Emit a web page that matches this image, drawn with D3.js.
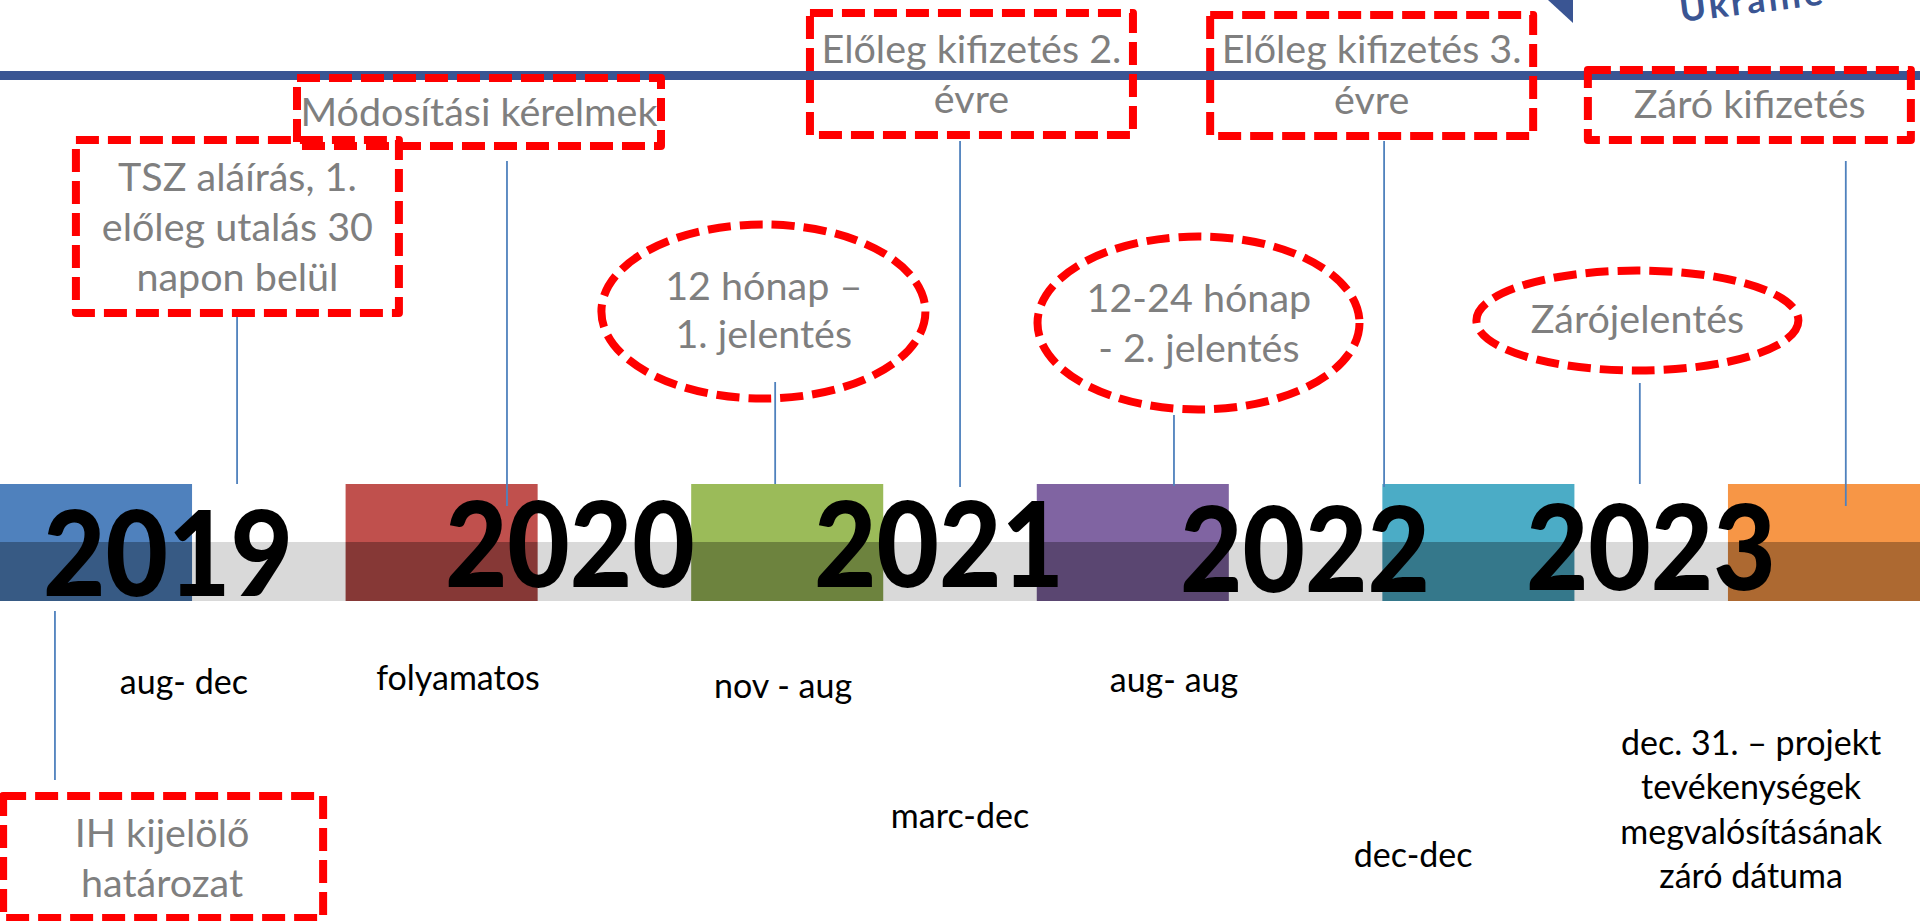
<!DOCTYPE html>
<html><head><meta charset="utf-8">
<script src="https://cdn.jsdelivr.net/npm/d3@7"></script>
<style>html,body{margin:0;padding:0;background:#fff;overflow:hidden}svg{display:block}</style>
</head><body>
<svg id="chart" width="1920" height="921"></svg>
<script>
// ---------------- DATA ----------------
const years = ["2019", "2020", "2021", "2022", "2023"];
const blockSlots = ["2019", "2020", "2021", "2022", "2023", "2024"];
// year label positions on the timeline (in slot units)
const yearLabelT = [0.486, 1.649, 2.717, 3.776, 4.777];

const milestoneTexts = [
  ["TSZ aláírás, 1.", "előleg utalás 30", "napon belül"],
  ["Módosítási kérelmek"],
  ["12 hónap –", "1. jelentés"],
  ["Előleg kifizetés 2.", "évre"],
  ["12-24 hónap", "- 2. jelentés"],
  ["Előleg kifizetés 3.", "évre"],
  ["Zárójelentés"],
  ["Záró kifizetés"],
  ["IH kijelölő", "határozat"]
];
const milestoneT = [0.686, 1.467, 2.243, 2.778, 3.397, 4.005, 4.745, 5.341, 0.159];
const milestoneShapes = ["rect", "rect", "ellipse", "rect", "ellipse", "rect", "ellipse", "rect", "rect"];

const periodTexts = [
  ["aug- dec"], ["folyamatos"], ["nov - aug"], ["marc-dec"], ["aug- aug"], ["dec-dec"],
  ["dec. 31. – projekt", "tevékenységek", "megvalósításának", "záró dátuma"]
];
const periodT = [0.532, 1.325, 2.266, 2.778, 3.397, 4.089, 5.067];

// ---------------- STYLES / LAYOUT ----------------
const blockColors = ["#4F81BD", "#C0504D", "#9BBB59", "#8064A2", "#4BACC6", "#F79646"];
const FONT = "Lato, Carlito, Calibri, 'Open Sans', sans-serif";
const W = 1920, H = 921;
const blockTop = 484, bandTop = 542, bandBottom = 601;
const yearBaseline = [596, 587, 587, 592, 590];

// shape geometry per milestone (box centre x in slot units, extents in px)
const shapeLayout = [
  {cxT: 0.687, w: 323, y0: 140, y1: 313},
  {cxT: 1.386, w: 364, y0: 78, y1: 146},
  {cxT: 2.209, w: 324, y0: 224.5, y1: 398.5},
  {cxT: 2.811, w: 323, y0: 13, y1: 135},
  {cxT: 3.468, w: 322, y0: 236.5, y1: 409.5},
  {cxT: 3.969, w: 323, y0: 15, y1: 136},
  {cxT: 4.738, w: 322, y0: 270.5, y1: 370.5},
  {cxT: 5.062, w: 323, y0: 70, y1: 140},
  {cxT: 0.472, w: 320, y0: 796, y1: 918}
];
const textLayout = [
  {cxT: 0.687, y: 191, lh: 50},
  {cxT: 1.386, y: 126, lh: 50},
  {cxT: 2.210, y: 300, lh: 48},
  {cxT: 2.811, y: 63, lh: 50},
  {cxT: 3.469, y: 312, lh: 50},
  {cxT: 3.969, y: 63, lh: 51},
  {cxT: 4.738, y: 333, lh: 50},
  {cxT: 5.063, y: 118, lh: 50},
  {cxT: 0.469, y: 847, lh: 50}
];
const lineLayout = [
  [315, 484], [161, 506], [382, 484], [141, 487], [415, 486], [141, 487], [383, 484], [161, 506], [611, 780]
];
const periodBaseline = [694, 690, 698, 828, 692, 867, 755];

// ---------------- SCALES ----------------
const svg = d3.select("#chart");
const band = d3.scaleBand().domain(blockSlots).range([0, W]).paddingInner(0.4443).paddingOuter(0);
const step = band.step();
const xT = d3.scaleLinear().domain([0, 1]).range([0, step]);

// ---------------- DRAW ----------------
// top header line
svg.append("rect").attr("x", 0).attr("y", 71).attr("width", W).attr("height", 9).attr("fill", "#3A5593");

// header decoration (triangle + "Ukraine")
svg.append("path").attr("d", d3.line()([[1548, 0], [1573, 0], [1573, 23]]) + "Z").attr("fill", "#3A5593");
svg.append("text").attr("transform", "translate(1681,22) rotate(-7)")
  .attr("font-family", FONT).attr("font-weight", 700).attr("font-size", 36)
  .attr("letter-spacing", 3).attr("fill", "#3A5593").text("Ukraine");

// gray band
svg.append("rect").attr("x", 0).attr("y", bandTop).attr("width", W).attr("height", bandBottom - bandTop).attr("fill", "#D9D9D9");

// colour blocks
const blocks = svg.append("g").selectAll("g").data(blockSlots).join("g");
blocks.append("rect").attr("x", d => band(d)).attr("y", blockTop).attr("width", band.bandwidth())
  .attr("height", bandTop - blockTop).attr("fill", (d, i) => blockColors[i]);
blocks.append("rect").attr("x", d => band(d)).attr("y", bandTop).attr("width", band.bandwidth())
  .attr("height", bandBottom - bandTop).attr("fill", (d, i) => d3.color(blockColors[i]).darker(1).formatHex());

// connector lines
svg.append("g").selectAll("line").data(milestoneT).join("line")
  .attr("x1", d => xT(d)).attr("x2", d => xT(d))
  .attr("y1", (d, i) => lineLayout[i][0]).attr("y2", (d, i) => lineLayout[i][1])
  .attr("stroke", "#4F81BD").attr("stroke-width", 1.8);

// dashed shapes
const shapes = svg.append("g").attr("fill", "none").attr("stroke", "#FF0000")
  .attr("stroke-width", 8).attr("stroke-dasharray", "23 9").attr("stroke-linejoin", "round");
milestoneShapes.forEach((s, i) => {
  const L = shapeLayout[i];
  const cx = xT(L.cxT);
  if (s === "rect") {
    shapes.append("rect").attr("x", cx - L.w / 2).attr("y", L.y0).attr("width", L.w).attr("height", L.y1 - L.y0);
  } else {
    shapes.append("ellipse").attr("cx", cx).attr("cy", (L.y0 + L.y1) / 2).attr("rx", L.w / 2).attr("ry", (L.y1 - L.y0) / 2);
  }
});

// milestone texts
const mt = svg.append("g").attr("font-family", FONT).attr("font-size", 39.5).attr("fill", "#7F7F7F").attr("text-anchor", "middle");
milestoneTexts.forEach((lines, i) => {
  const T = textLayout[i];
  lines.forEach((ln, j) => {
    mt.append("text").attr("x", xT(T.cxT)).attr("y", T.y + j * T.lh).text(ln);
  });
});

// year labels
svg.append("g").selectAll("text").data(years).join("text")
  .attr("x", (d, i) => xT(yearLabelT[i])).attr("y", (d, i) => yearBaseline[i])
  .attr("text-anchor", "middle").attr("font-family", FONT).attr("font-weight", 900)
  .attr("font-size", 118).attr("fill", "#000")
  .attr("textLength", 250).attr("lengthAdjust", "spacingAndGlyphs")
  .text(d => d);

// period labels
const pt = svg.append("g").attr("font-family", FONT).attr("font-size", 34).attr("fill", "#000").attr("text-anchor", "middle");
periodTexts.forEach((lines, i) => {
  lines.forEach((ln, j) => {
    pt.append("text").attr("x", xT(periodT[i])).attr("y", periodBaseline[i] + j * 44.3).text(ln);
  });
});
</script>
</body></html>
